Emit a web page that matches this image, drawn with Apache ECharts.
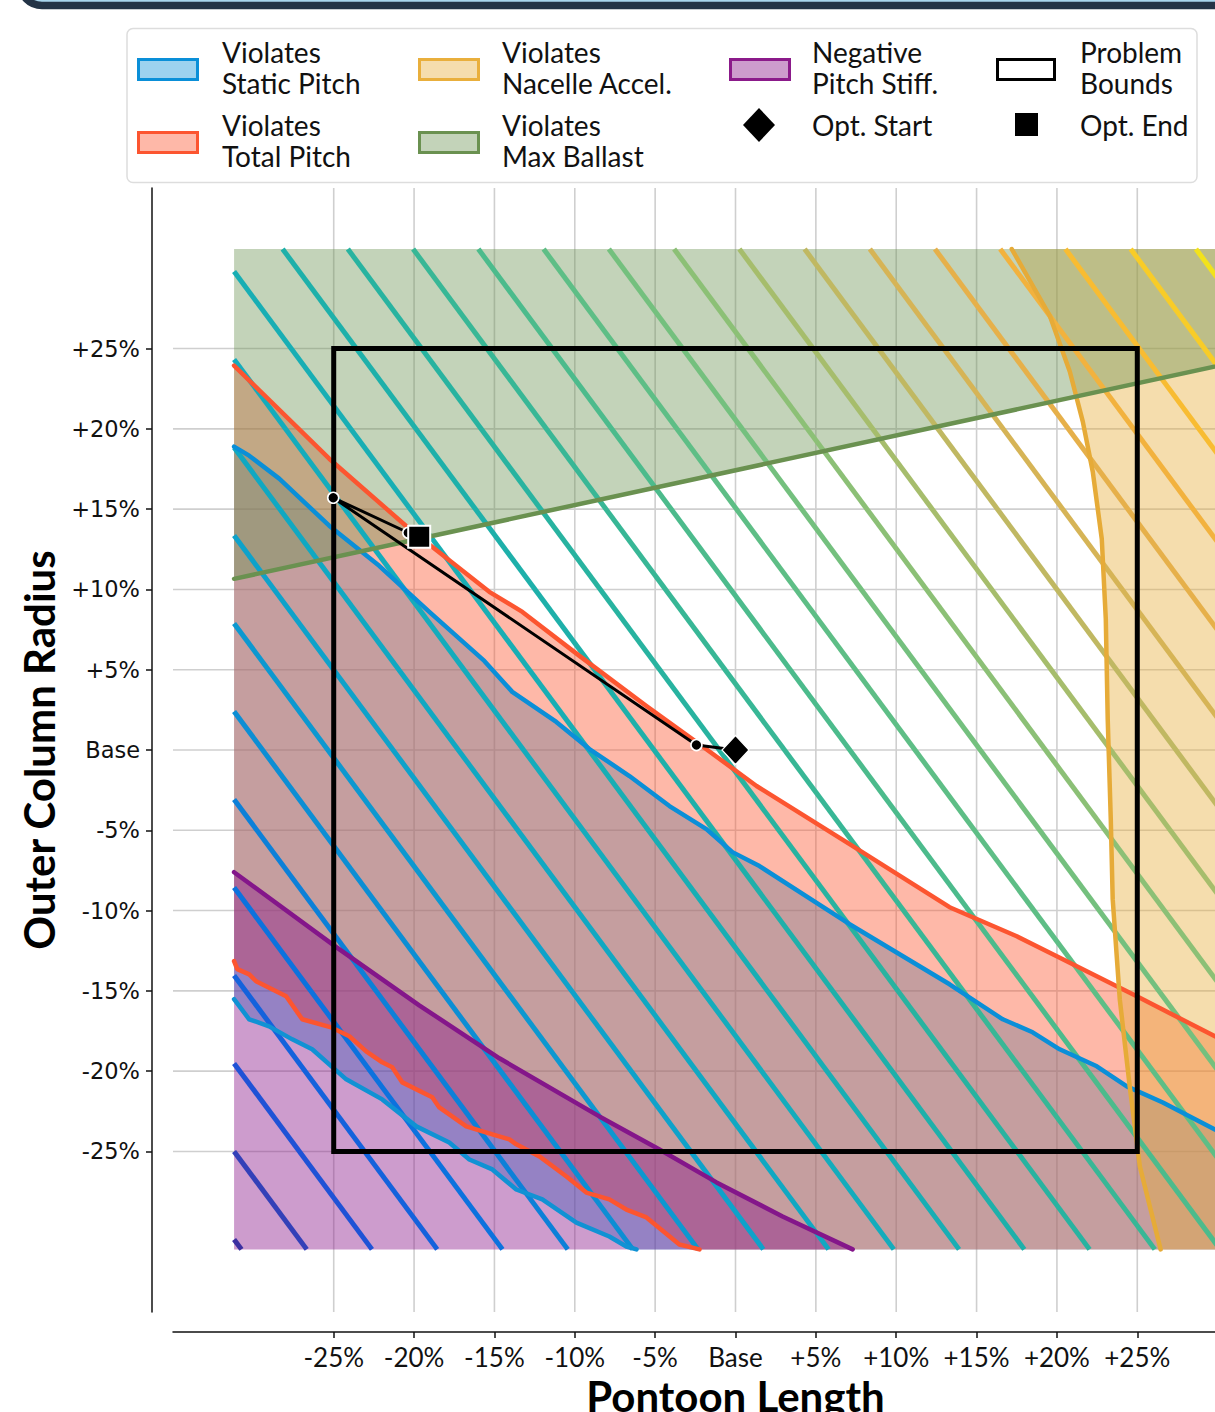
<!DOCTYPE html>
<html>
<head>
<meta charset="utf-8">
<script src="https://cdn.jsdelivr.net/npm/echarts@6.0.0/dist/echarts.min.js"></script>
<style>
  html, body { margin: 0; padding: 0; background: #ffffff; }
  #chart { width: 1215px; height: 1412px; }
</style>
</head>
<body>
<div id="chart"></div>
<script>
// Axis ticks (percent change from the base design)
const pctTicks = [-25, -20, -15, -10, -5, 0, 5, 10, 15, 20, 25];
const pctTickLabels = ['-25%', '-20%', '-15%', '-10%', '-5%', 'Base', '+5%', '+10%', '+15%', '+20%', '+25%'];
const axisRange = [-35, 35];

// Sampled design space: [pontoon length %, outer column radius %]
const sampleX = [-31.2, 31.2];
const sampleY = [-31.1, 31.2];

// Objective contours, one segment per level: [x1, y1, x2, y2]
const contourSegments = [
  [-31.2, -30.48, -30.74, -31.1],
  [-31.2, -25.00, -26.68, -31.1],
  [-31.2, -19.52, -22.62, -31.1],
  [-31.2, -14.04, -18.56, -31.1],
  [-31.2, -8.56, -14.50, -31.1],
  [-31.2, -3.08, -10.44, -31.1],
  [-31.2, 2.40, -6.39, -31.1],
  [-31.2, 7.88, -2.33, -31.1],
  [-31.2, 13.36, 1.73, -31.1],
  [-31.2, 18.84, 5.79, -31.1],
  [-31.2, 24.32, 9.85, -31.1],
  [-31.2, 29.80, 13.91, -31.1],
  [-28.18, 31.2, 17.97, -31.1],
  [-24.12, 31.2, 22.03, -31.1],
  [-20.06, 31.2, 26.09, -31.1],
  [-16.00, 31.2, 30.15, -31.1],
  [-11.94, 31.2, 31.2, -27.04],
  [-7.88, 31.2, 31.2, -21.56],
  [-3.82, 31.2, 31.2, -16.08],
  [0.24, 31.2, 31.2, -10.60],
  [4.30, 31.2, 31.2, -5.12],
  [8.36, 31.2, 31.2, 0.36],
  [12.41, 31.2, 31.2, 5.84],
  [16.47, 31.2, 31.2, 11.32],
  [20.53, 31.2, 31.2, 16.80],
  [24.59, 31.2, 31.2, 22.28],
  [28.65, 31.2, 31.2, 27.76]
];
const contourColors = [
  '#3b2fa0', '#3340b8', '#1f52d6', '#1462dc', '#0c72de', '#0c80d8', '#0c8ed4',
  '#0c98d0', '#0ea2ca', '#10a8c2', '#14acbc', '#18aeb4', '#1eb0aa', '#28b3a0',
  '#38b796', '#4cbb8c', '#5ebe86', '#74c07e', '#8cc076', '#a6bd6c', '#c0b862',
  '#d6b456', '#e6b04a', '#f2b23e', '#f8bc32', '#f8cc28', '#f2e21c'
];

// Constraint boundaries
const staticPitchUpper = [
  [-31.2, 18.89], [-30.26, 18.33], [-28.39, 16.90], [-25.28, 13.97], [-22.17, 11.47],
  [-19.05, 8.60], [-15.63, 5.55], [-13.89, 3.62], [-11.15, 1.75], [-9.09, 0.06],
  [-6.60, -1.62], [-4.11, -3.49], [-1.81, -4.93], [-0.19, -6.36], [1.49, -7.23],
  [7.10, -10.85], [13.32, -14.59], [16.63, -16.77], [18.49, -17.58], [20.17, -18.64],
  [22.48, -19.70], [24.35, -20.95], [26.59, -21.95], [29.83, -23.63], [31.2, -24.30]
];
const staticPitchLower = [
  [-31.2, -15.52], [-30.26, -16.77], [-29.02, -17.21], [-27.58, -18.02], [-26.34, -18.64],
  [-24.22, -20.51], [-21.98, -21.76], [-19.86, -23.44], [-17.81, -24.44], [-16.56, -25.50],
  [-15.13, -26.12], [-13.64, -27.37], [-12.02, -27.99], [-9.90, -29.43], [-7.85, -30.30],
  [-6.79, -30.92], [-6.16, -31.1]
];
const totalPitchUpper = [
  [-31.2, 23.94], [-25.28, 18.14], [-20.30, 13.78], [-15.32, 9.85], [-13.26, 8.60],
  [-9.71, 5.86], [-5.54, 2.74], [-2.43, 0.50], [1.31, -2.24], [7.10, -5.86],
  [13.32, -9.79], [17.50, -11.60], [19.99, -12.84], [23.72, -14.71], [24.97, -15.34],
  [29.83, -17.83], [31.2, -18.50]
];
const totalPitchLower = [
  [-31.2, -13.15], [-31.0, -13.65], [-30.26, -13.97], [-29.83, -14.40], [-27.96, -15.34],
  [-26.96, -16.77], [-25.16, -17.27], [-24.03, -17.83], [-22.98, -18.77], [-21.98, -19.45],
  [-21.36, -19.76], [-20.73, -20.70], [-18.87, -21.63], [-18.43, -22.26], [-16.75, -23.44],
  [-15.13, -23.94], [-14.07, -24.25], [-13.64, -24.56], [-12.20, -25.31], [-10.52, -26.56],
  [-9.28, -27.56], [-7.85, -27.99], [-6.79, -28.62], [-5.54, -29.11], [-3.49, -30.80],
  [-2.24, -31.1]
];
const pitchStiffBoundary = [
  [-31.2, -7.61], [-24.84, -12.28], [-19.68, -15.90], [-14.69, -19.20], [-8.47, -22.82],
  [-4.73, -24.88], [-1.18, -26.93], [2.93, -29.05], [7.29, -31.1]
];
const nacelleBoundary = [
  [17.19, 31.2], [19.55, 27.06], [20.80, 23.57], [21.61, 20.45], [22.23, 17.33],
  [22.79, 13.15], [23.04, 8.17], [23.16, 1.93], [23.35, -4.30], [23.47, -9.29],
  [23.91, -15.52], [24.53, -20.95], [25.16, -25.94], [26.45, -31.1]
];
const ballastBoundary = [[-31.2, 10.66], [31.2, 24.18]];

// Problem bounds and optimizer trajectory
const problemBounds = [-25, 25];
const optPath = [[0, 0], [-2.43, 0.31], [-25.03, 15.71], [-20.36, 13.53]];
const optIterates = [[-2.43, 0.31], [-25.03, 15.71], [-20.36, 13.53]];
const optStart = [[0, 0]];
const optEnd = [[-19.68, 13.28]];

// ---------------------------------------------------------------------------
const FONT = 'Lato, "Noto Sans", sans-serif';

const staticPitchColor = '#0a8fd8';
const totalPitchColor = '#fc5530';
const pitchStiffColor = '#84168a';
const nacelleColor = '#e6ab38';
const ballastColor = '#6a9150';

function tickLabel(v) {
  const i = pctTicks.indexOf(Math.round(v));
  return i >= 0 && Math.abs(v - pctTicks[i]) < 1e-6 ? pctTickLabels[i] : '';
}

function regionSeries(name, points, fill, z) {
  return {
    type: 'custom', name, z, silent: true, animation: false,
    data: [points[0]],
    renderItem: (params, api) => ({
      type: 'polygon',
      shape: { points: points.map(p => api.coord(p)) },
      style: { fill }
    })
  };
}

function edgeSeries(name, points, color, z) {
  return {
    type: 'line', name, z, data: points, symbol: 'none', showSymbol: false,
    silent: true, animation: false,
    lineStyle: { color, width: 4.5, cap: 'round', join: 'round' }
  };
}

const [xLo, xHi] = sampleX;
const [yLo, yHi] = sampleY;

const staticPitchRegion = staticPitchUpper
  .concat([[xHi, yLo]])
  .concat(staticPitchLower.slice().reverse());
const totalPitchRegion = totalPitchUpper
  .concat([[xHi, yLo]])
  .concat(totalPitchLower.slice().reverse());
const pitchStiffRegion = pitchStiffBoundary.concat([[xLo, yLo]]);
const nacelleRegion = nacelleBoundary.concat([[xHi, yLo], [xHi, yHi]]);
const ballastRegion = ballastBoundary.concat([[xHi, yHi], [xLo, yHi]]);

const [bLo, bHi] = problemBounds;
const boundsRect = [[bLo, bLo], [bHi, bLo], [bHi, bHi], [bLo, bHi]];

const series = [
  // grid lines at the labelled ticks only
  {
    type: 'custom', name: 'grid', z: 1, silent: true, animation: false,
    data: pctTicks.map(v => [v, v]),
    renderItem: (params, api) => {
      const v = api.value(0);
      const a = api.coord([v, axisRange[0]]), b = api.coord([v, axisRange[1]]);
      const c = api.coord([axisRange[0], v]), d = api.coord([axisRange[1], v]);
      const st = { stroke: '#cfcfcf', lineWidth: 1.6 };
      return {
        type: 'group',
        children: [
          { type: 'line', shape: { x1: a[0], y1: a[1], x2: b[0], y2: b[1] }, style: st },
          { type: 'line', shape: { x1: c[0], y1: c[1], x2: d[0], y2: d[1] }, style: st }
        ]
      };
    }
  },
  regionSeries('Violates Static Pitch', staticPitchRegion, 'rgba(10,143,216,0.40)', 2),
  regionSeries('Violates Total Pitch', totalPitchRegion, 'rgba(252,85,48,0.42)', 3),
  regionSeries('Negative Pitch Stiff.', pitchStiffRegion, 'rgba(139,26,138,0.43)', 4),
  regionSeries('Violates Nacelle Accel.', nacelleRegion, 'rgba(232,174,60,0.42)', 5),
  regionSeries('Violates Max Ballast', ballastRegion, 'rgba(106,145,80,0.40)', 6),
  {
    type: 'custom', name: 'objective', z: 7, silent: true, animation: false,
    dimensions: ['x1', 'y1', 'x2', 'y2'],
    encode: { x: [0, 2], y: [1, 3] },
    data: contourSegments,
    renderItem: (params, api) => {
      const p1 = api.coord([api.value(0), api.value(1)]);
      const p2 = api.coord([api.value(2), api.value(3)]);
      return {
        type: 'line',
        shape: { x1: p1[0], y1: p1[1], x2: p2[0], y2: p2[1] },
        style: { stroke: contourColors[params.dataIndex], lineWidth: 5, lineCap: 'butt' }
      };
    }
  },
  edgeSeries('static upper', staticPitchUpper, staticPitchColor, 8),
  edgeSeries('static lower', staticPitchLower, '#1092d4', 8),
  edgeSeries('total upper', totalPitchUpper, totalPitchColor, 8),
  edgeSeries('total lower', totalPitchLower, totalPitchColor, 8),
  edgeSeries('stiffness', pitchStiffBoundary, pitchStiffColor, 8),
  edgeSeries('nacelle', nacelleBoundary, nacelleColor, 8),
  edgeSeries('ballast', ballastBoundary, ballastColor, 8),
  {
    type: 'custom', name: 'Problem Bounds', z: 9, silent: true, animation: false,
    data: [boundsRect[0]],
    renderItem: (params, api) => ({
      type: 'polygon',
      shape: { points: boundsRect.map(p => api.coord(p)) },
      style: { fill: 'none', stroke: '#000', lineWidth: 5, lineJoin: 'miter' }
    })
  },
  {
    type: 'line', name: 'path', z: 10, data: optPath, symbol: 'none', showSymbol: false,
    silent: true, animation: false,
    lineStyle: { color: '#000', width: 3 }
  },
  {
    type: 'scatter', name: 'iterates', z: 11, data: optIterates, silent: true, animation: false,
    symbol: 'circle', symbolSize: 11,
    itemStyle: { color: '#000', borderColor: '#fff', borderWidth: 1.6, opacity: 1 }
  },
  {
    type: 'scatter', name: 'Opt. Start', z: 12, data: optStart, silent: true, animation: false,
    symbol: 'diamond', symbolSize: [27, 29],
    itemStyle: { color: '#000', borderColor: '#fff', borderWidth: 1.2, opacity: 1 }
  },
  {
    type: 'scatter', name: 'Opt. End', z: 12, data: optEnd, silent: true, animation: false,
    symbol: 'rect', symbolSize: 22,
    itemStyle: { color: '#000', borderColor: '#fff', borderWidth: 2, opacity: 1 }
  }
];

// Legend, drawn as a boxed 4x2 key
function patch(x, y, fill, stroke) {
  return { type: 'rect', shape: { x, y, width: 59, height: 20 }, style: { fill, stroke, lineWidth: 3 }, z: 100 };
}
function label(x, y, text) {
  return {
    type: 'text', x, y, z: 100,
    style: { text, fontFamily: FONT, fontSize: 28, fill: '#111', verticalAlign: 'middle', align: 'left', lineHeight: 31 }
  };
}

const graphics = [
  // frame of the panel above
  { type: 'rect', shape: { x: 20, y: -100, width: 1300, height: 105.5, r: 22 },
    style: { fill: '#a8d5ec', stroke: '#243446', lineWidth: 7.5 }, z: 100 },
  { type: 'rect', shape: { x: 127, y: 28.5, width: 1070, height: 154, r: 6 },
    style: { fill: '#ffffff', stroke: '#dddddd', lineWidth: 1.5 }, z: 99 },
  patch(138.5, 59.5, 'rgba(10,143,216,0.40)', staticPitchColor),
  label(222, 67, 'Violates\nStatic Pitch'),
  patch(138.5, 132.5, 'rgba(252,85,48,0.42)', totalPitchColor),
  label(222, 140, 'Violates\nTotal Pitch'),
  patch(419.5, 59.5, 'rgba(232,174,60,0.42)', '#e9af3c'),
  label(502, 67, 'Violates\nNacelle Accel.'),
  patch(419.5, 132.5, 'rgba(106,145,80,0.40)', ballastColor),
  label(502, 140, 'Violates\nMax Ballast'),
  patch(730.5, 59.5, 'rgba(139,26,138,0.43)', '#8b1a8a'),
  label(812, 67, 'Negative\nPitch Stiff.'),
  { type: 'polygon', shape: { points: [[759, 108], [775, 125], [759, 142], [743, 125]] },
    style: { fill: '#000' }, z: 100 },
  label(812, 125, 'Opt. Start'),
  { type: 'rect', shape: { x: 997.5, y: 59.5, width: 57, height: 20 },
    style: { fill: '#fff', stroke: '#000', lineWidth: 3 }, z: 100 },
  label(1080, 67, 'Problem\nBounds'),
  { type: 'rect', shape: { x: 1015, y: 113, width: 23, height: 23 }, style: { fill: '#000' }, z: 100 },
  label(1080, 125, 'Opt. End')
];

const chart = echarts.init(document.getElementById('chart'), null, { renderer: 'svg' });
chart.setOption({
  backgroundColor: '#ffffff',
  animation: false,
  grid: { left: 173, top: 188, width: 1125, height: 1124, containLabel: false, outerBoundsMode: 'none' },
  xAxis: {
    type: 'value', min: axisRange[0], max: axisRange[1], interval: 5,
    position: 'bottom', offset: 20,
    axisLine: { show: true, onZero: false, lineStyle: { color: '#111', width: 1.5 } },
    axisTick: { show: true, customValues: pctTicks, length: 6, lineStyle: { color: '#111', width: 1.5 } },
    axisLabel: {
      customValues: pctTicks, formatter: tickLabel, margin: 12,
      fontFamily: FONT, fontSize: 26, color: '#111'
    },
    splitLine: { show: false },
    name: 'Pontoon Length', nameLocation: 'middle', nameGap: 40,
    nameTextStyle: { fontFamily: FONT, fontWeight: 'bold', fontSize: 42, color: '#000' }
  },
  yAxis: {
    type: 'value', min: axisRange[0], max: axisRange[1], interval: 5,
    position: 'left', offset: 21,
    axisLine: { show: true, onZero: false, lineStyle: { color: '#111', width: 1.5 } },
    axisTick: { show: true, customValues: pctTicks, length: 6, lineStyle: { color: '#111', width: 1.5 } },
    axisLabel: {
      customValues: pctTicks, formatter: tickLabel, margin: 12,
      fontFamily: '"DejaVu Sans", sans-serif', fontSize: 22.5, color: '#111'
    },
    splitLine: { show: false },
    name: 'Outer Column Radius', nameLocation: 'middle', nameGap: 88,
    nameTextStyle: { fontFamily: FONT, fontWeight: 'bold', fontSize: 42, color: '#000' }
  },
  graphic: { elements: graphics },
  series
});
</script>
</body>
</html>
